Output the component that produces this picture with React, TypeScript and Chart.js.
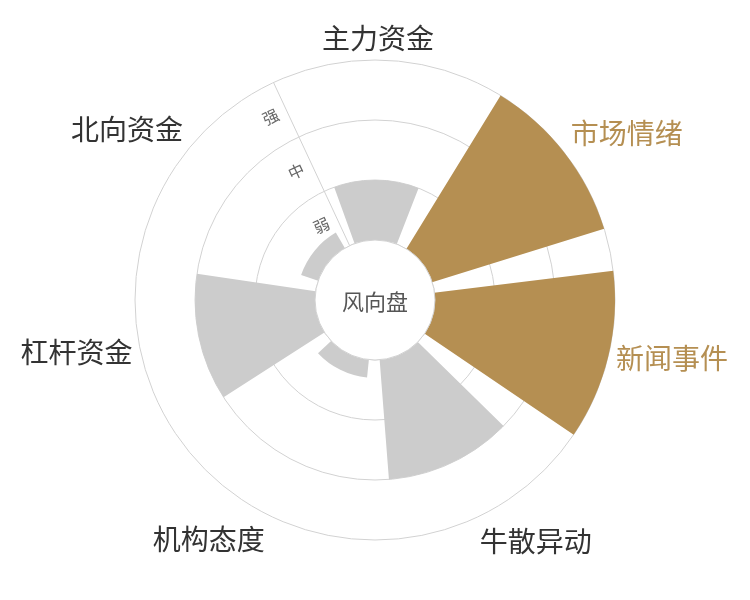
import React, { useEffect, useRef } from 'react';
import { Chart, registerables } from 'chart.js';

Chart.register(...registerables);

const categories = ['主力资金', '市场情绪', '新闻事件', '牛散异动', '机构态度', '杠杆资金', '北向资金'];
const strength = [1, 3, 3, 2, 0.3, 2, 0.3];
const levels = ['弱', '中', '强'];
const centerTitle = '风向盘';

const GOLD = '#b58f52';
const GRAY = '#cccccc';
const GRID = '#d2d2d2';
const FONT = '"Noto Sans CJK SC", "Noto Sans", sans-serif';

const SLOT = 360 / categories.length;
const BAR = SLOT * 0.8;
const ROTATE = 0.7; // the dial sits a hair clockwise of straight up

const rad = (deg: number) => (deg * Math.PI) / 180;

const dialDecor = {
  id: 'dialDecor',
  afterDatasetsDraw(chart: any) {
    const { ctx } = chart;
    const scale = chart.scales.r;
    const cx = scale.xCenter;
    const cy = scale.yCenter;
    const inner = scale.getDistanceFromCenterForValue(0);
    const outer = scale.getDistanceFromCenterForValue(levels.length);
    const at = (deg: number, r: number) => [cx + r * Math.sin(rad(deg)), cy - r * Math.cos(rad(deg))];

    ctx.save();

    // radius axis line between 北向资金 and 主力资金
    const axisDeg = ROTATE - SLOT / 2;
    const [x0, y0] = at(axisDeg, inner);
    const [x1, y1] = at(axisDeg, outer);
    ctx.strokeStyle = GRID;
    ctx.lineWidth = 1;
    ctx.beginPath();
    ctx.moveTo(x0, y0);
    ctx.lineTo(x1, y1);
    ctx.stroke();

    // level labels, turned along the axis
    ctx.font = `16px ${FONT}`;
    ctx.fillStyle = '#666';
    ctx.textAlign = 'center';
    ctx.textBaseline = 'middle';
    levels.forEach((lv, k) => {
      const r = scale.getDistanceFromCenterForValue(k + 0.5);
      const [px, py] = at(axisDeg, r);
      const [ox, oy] = at(axisDeg - 90, 17);
      ctx.save();
      ctx.translate(px + ox - cx, py + oy - cy);
      ctx.rotate(rad(axisDeg));
      ctx.fillText(lv, 0, 0);
      ctx.restore();
    });

    // centre hole
    ctx.beginPath();
    ctx.arc(cx, cy, inner, 0, Math.PI * 2);
    ctx.fillStyle = '#fff';
    ctx.fill();
    ctx.strokeStyle = GRID;
    ctx.stroke();
    ctx.font = `22px ${FONT}`;
    ctx.fillStyle = '#555';
    ctx.fillText(centerTitle, cx, cy + 2);

    // category labels round the rim
    ctx.font = `28px ${FONT}`;
    categories.forEach((name, i) => {
      const deg = ROTATE + i * SLOT;
      const s = Math.sin(rad(deg));
      const c = Math.cos(rad(deg));
      const [px, py] = at(deg, outer + 8);
      ctx.textAlign = Math.abs(s) < 0.3 ? 'center' : s > 0 ? 'left' : 'right';
      ctx.textBaseline = Math.abs(c) < 0.3 ? 'middle' : c > 0 ? 'bottom' : 'top';
      ctx.fillStyle = strength[i] >= levels.length ? GOLD : '#333';
      ctx.fillText(name, px, py + (c < -0.3 ? 3 : 0));
    });

    ctx.restore();
  },
};

const WindDial: React.FC = () => {
  const canvasRef = useRef<HTMLCanvasElement | null>(null);

  useEffect(() => {
    if (!canvasRef.current) return;

    // each category is followed by an empty wedge so the bars stand apart
    const labels: string[] = [];
    const data: number[] = [];
    const angles: number[] = [];
    const colors: string[] = [];
    categories.forEach((name, i) => {
      labels.push(name, '');
      data.push(strength[i], -1);
      angles.push(BAR, SLOT - BAR);
      colors.push(strength[i] >= levels.length ? GOLD : GRAY, 'rgba(0,0,0,0)');
    });

    const chart = new Chart(canvasRef.current, {
      type: 'polarArea',
      data: {
        labels,
        datasets: [
          {
            data,
            angle: angles,
            backgroundColor: colors,
            borderWidth: 0,
          } as any,
        ],
      },
      options: {
        responsive: true,
        maintainAspectRatio: false,
        animation: false,
        layout: { padding: { top: 60, bottom: 60, left: 0, right: 0 } },
        plugins: {
          legend: { display: false },
          tooltip: { enabled: false },
        },
        scales: {
          r: {
            min: -1,
            max: levels.length,
            startAngle: ROTATE - BAR / 2,
            ticks: { display: false, stepSize: 1 },
            grid: {
              color: (ctx: any) => (ctx.index === 0 ? 'rgba(0,0,0,0)' : GRID),
              lineWidth: 1,
            },
            angleLines: { display: false },
            pointLabels: { display: false },
          },
        },
      },
      plugins: [dialDecor],
    });

    return () => {
      chart.destroy();
    };
  }, []);

  return (
    <div style={{ position: 'absolute', left: 0, top: 0, width: 750, height: 600 }}>
      <canvas ref={canvasRef} style={{ display: 'block' }}></canvas>
    </div>
  );
};

export default function App() {
  return <WindDial />;
}
